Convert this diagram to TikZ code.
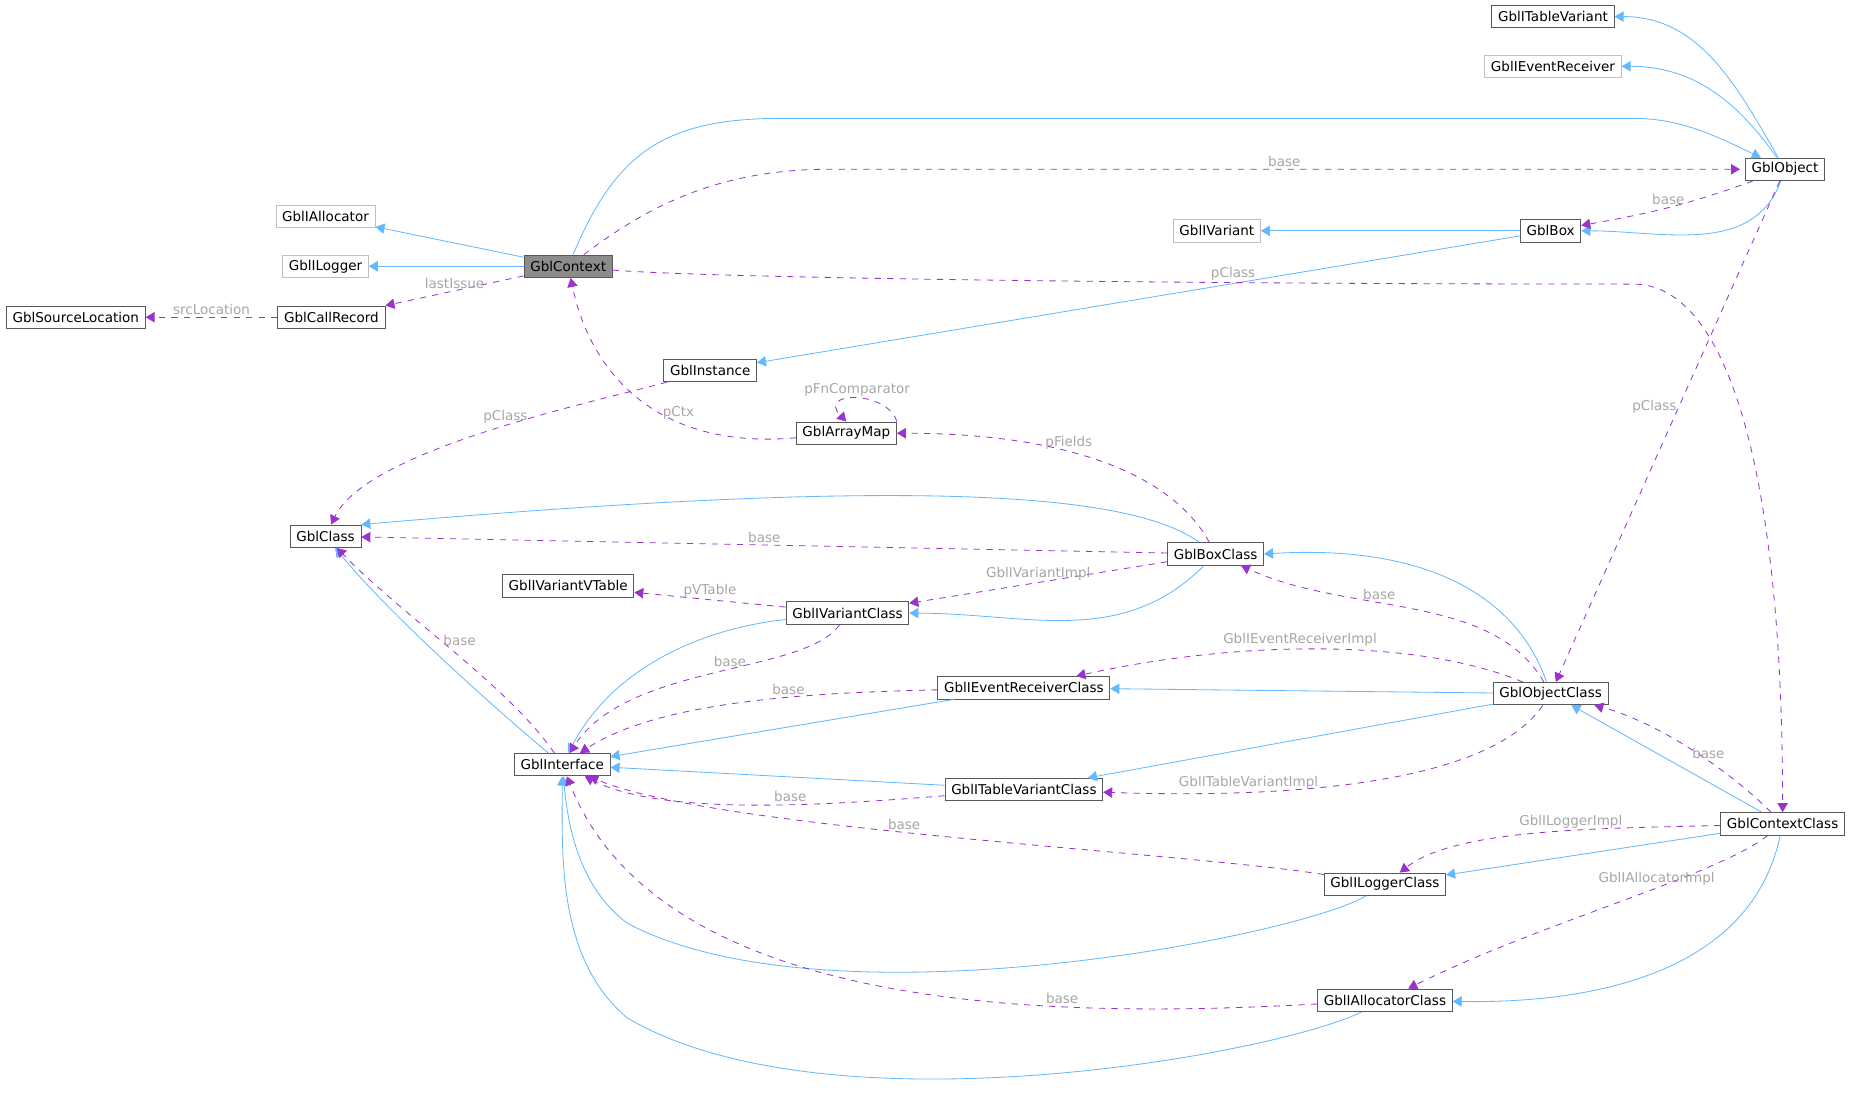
\documentclass[tikz,border=0pt]{standalone}
\usepackage{fontspec}
\setmainfont{DejaVu Sans}
\usetikzlibrary{arrows.meta}
\definecolor{inhblue}{HTML}{63B8FF}
\definecolor{usepurple}{HTML}{9A32CD}
\tikzset{
	every node/.style={font=\fontsize{6.5}{7.5}\selectfont},
	cls/.style={draw=black!65,fill=white,inner xsep=3pt,inner ysep=2pt,minimum height=0.38cm},
	ext/.style={cls,draw=black!25},
	cur/.style={cls,fill=black!45},
	inh/.style={draw=inhblue,-{Triangle[angle=60:5pt 0]}},
	use/.style={draw=usepurple,dashed,-{Triangle[angle=60:5pt 0]}},
	lbl/.style={text=black!35,inner sep=1pt},
}
\begin{document}
\begin{tikzpicture}[x=0.02cm,y=-0.02cm]
	\useasboundingbox (0,0) rectangle (1568,933);

	\node[cls] (itv)  at (1312,14)  {GblITableVariant};
	\node[ext] (ier)  at (1312,56)  {GblIEventReceiver};
	\node[cls] (obj)  at (1508,143) {GblObject};
	\node[ext] (ialloc) at (275,183) {GblIAllocator};
	\node[cur] (ctx)  at (480,225)  {GblContext};
	\node[ext] (ilog) at (275,225)  {GblILogger};
	\node[ext] (ivar) at (1028,195) {GblIVariant};
	\node[cls] (box)  at (1310,195) {GblBox};
	\node[cls] (srcl) at (64,268)   {GblSourceLocation};
	\node[cls] (crec) at (280,268)  {GblCallRecord};
	\node[cls] (inst) at (600,313)  {GblInstance};
	\node[cls] (amap) at (715,366)  {GblArrayMap};
	\node[cls] (cls)  at (275,453)  {GblClass};
	\node[cls] (boxc) at (1027,468) {GblBoxClass};
	\node[cls] (vvt)  at (480,495)  {GblIVariantVTable};
	\node[cls] (ivc)  at (716,518)  {GblIVariantClass};
	\node[cls] (objc) at (1310,586) {GblObjectClass};
	\node[cls] (ierc) at (865,581)  {GblIEventReceiverClass};
	\node[cls] (intf) at (475,646)  {GblInterface};
	\node[cls] (itvc) at (865,667)  {GblITableVariantClass};
	\node[cls] (ctxc) at (1506,696) {GblContextClass};
	\node[cls] (ilc)  at (1170,747) {GblILoggerClass};
	\node[cls] (iac)  at (1170,845) {GblIAllocatorClass};

	% inheritance
	\draw[inh] (obj) to[out=120,in=0] (itv);
	\draw[inh] (obj) to[out=125,in=0] (ier);
	\draw[inh] (ctx) .. controls (520,130) and (560,100) .. (660,100) -- (1380,100) .. controls (1420,100) and (1450,115) .. (obj);
	\draw[inh] (ctx) -- (ialloc);
	\draw[inh] (ctx) -- (ilog);
	\draw[inh] (box) -- (ivar);
	\draw[inh] (obj) to[out=-110,in=0] (box.east);
	\draw[inh] (box) -- (inst);
	\draw[inh] (boxc) .. controls (960,420) and (800,400) .. (cls.north east);
	\draw[inh] (intf) .. controls (420,600) and (330,520) .. (cls);
	\draw[inh] (objc) .. controls (1280,500) and (1200,460) .. (boxc.east);
	\draw[inh] (boxc) to[out=-135,in=0] (ivc);
	\draw[inh] (ivc) .. controls (600,530) and (520,560) .. (intf);
	\draw[inh] (ierc) -- (intf);
	\draw[inh] (objc) -- (ierc);
	\draw[inh] (objc) -- (itvc);
	\draw[inh] (itvc) -- (intf);
	\draw[inh] (ctxc) -- (objc);
	\draw[inh] (ctxc) -- (ilc);
	\draw[inh] (ctxc) .. controls (1480,820) and (1350,848) .. (iac);
	\draw[inh] (ilc) .. controls (1100,790) and (700,870) .. (530,780) .. controls (490,750) and (480,700) .. (intf);
	\draw[inh] (iac) .. controls (1080,890) and (700,960) .. (530,860) .. controls (470,810) and (475,720) .. (intf);

	% usage
	\draw[use] (ctx) .. controls (540,180) and (600,143) .. (700,143) -- node[lbl,above]{base} (1470,143);
	\draw[use] (obj) to[out=-160,in=10] node[lbl,above]{base} (box);
	\draw[use] (ctx) -- node[lbl,above]{lastIssue} (crec);
	\draw[use] (crec) -- node[lbl,above]{srcLocation} (srcl);
	\draw[use] (ctx) .. controls (600,235) and (1000,240) .. node[lbl,above,pos=0.7]{pClass} (1380,240) .. controls (1460,240) and (1506,400) .. (ctxc);
	\draw[use] (obj) -- node[lbl,left,pos=0.45]{pClass} (objc);
	\draw[use] (inst) .. controls (500,340) and (310,380) .. node[lbl,above,pos=0.45]{pClass} (cls);
	\draw[use] (amap) .. controls (560,380) and (500,320) .. node[lbl,above,pos=0.35]{pCtx} (ctx);
	\draw[use] (amap.north east) .. controls (750,330) and (690,330) .. node[lbl,above]{pFnComparator} (amap.north);
	\draw[use] (boxc) .. controls (990,400) and (900,366) .. node[lbl,above,pos=0.6]{pFields} (amap);
	\draw[use] (boxc) -- node[lbl,above]{base} (cls);
	\draw[use] (boxc) -- node[lbl,above]{GblIVariantImpl} (ivc);
	\draw[use] (ivc) -- node[lbl,above]{pVTable} (vvt);
	\draw[use] (intf) .. controls (430,580) and (340,520) .. node[lbl,right,pos=0.55]{base} (cls);
	\draw[use] (ivc) .. controls (680,570) and (530,560) .. node[lbl,above,pos=0.45]{base} (intf);
	\draw[use] (ierc) .. controls (700,585) and (560,590) .. node[lbl,above,pos=0.4]{base} (intf);
	\draw[use] (itvc) .. controls (700,680) and (560,690) .. node[lbl,above,pos=0.4]{base} (intf);
	\draw[use] (ilc) .. controls (1000,720) and (600,700) .. node[lbl,above,pos=0.55]{base} (intf);
	\draw[use] (iac) .. controls (900,860) and (560,860) .. node[lbl,above,pos=0.3]{base} (intf);
	\draw[use] (objc) .. controls (1260,500) and (1140,520) .. node[lbl,above,pos=0.6]{base} (boxc);
	\draw[use] (objc) .. controls (1200,540) and (1050,540) .. node[lbl,above,pos=0.55]{GblIEventReceiverImpl} (ierc);
	\draw[use] (objc) .. controls (1260,660) and (1100,675) .. node[lbl,above,pos=0.75]{GblITableVariantImpl} (itvc);
	\draw[use] (ctxc) .. controls (1460,650) and (1400,610) .. node[lbl,above,pos=0.4]{base} (objc);
	\draw[use] (ctxc) .. controls (1350,700) and (1230,700) .. node[lbl,above,pos=0.4]{GblILoggerImpl} (ilc);
	\draw[use] (ctxc) .. controls (1450,740) and (1300,780) .. node[lbl,above,pos=0.4]{GblIAllocatorImpl} (iac);
\end{tikzpicture}
\end{document}
